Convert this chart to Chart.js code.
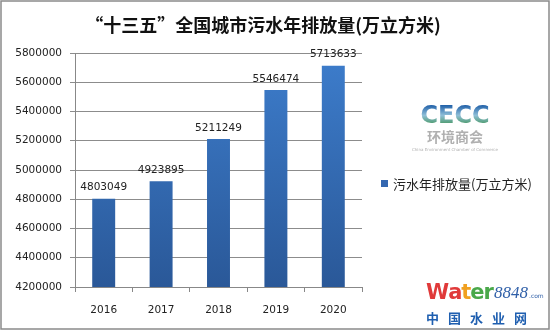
<!DOCTYPE html>
<html>
<head>
<meta charset="utf-8">
<style>
  html, body { margin: 0; padding: 0; background: #fff; }
  #wrap { width: 552px; height: 332px; position: relative; }
</style>
</head>
<body>
<div id="wrap"><canvas id="chart" width="552" height="332"></canvas></div>

<script src="https://cdn.jsdelivr.net/npm/chart.js@4.4.1/dist/chart.umd.min.js"></script>
<script>
  const years = ["2016", "2017", "2018", "2019", "2020"]
  const sewage = [4803049, 4923895, 5211249, 5546474, 5713633]
  const seriesName = "污水年排放量(万立方米)"
  const chartTitle = "“十三五”全国城市污水年排放量(万立方米)"
  const yMin = 4200000
  const yMax = 5800000
  const yStep = 200000

  const numFont = "DejaVu Sans, sans-serif"
  const cjkFont = "'Noto Sans CJK SC', sans-serif"

  function barGradient(context) {
    const chart = context.chart
    const area = chart.chartArea
    if (!area) return "#3673c0"
    const g = chart.ctx.createLinearGradient(0, area.top, 0, area.bottom)
    g.addColorStop(0, "#3d7dcc")
    g.addColorStop(1, "#2a5898")
    return g
  }

  // title, frame, value labels, legend and the two logos
  const decorations = {
    id: "decorations",
    afterDatasetsDraw(chart) {
      const ctx = chart.ctx
      const meta = chart.getDatasetMeta(0)
      ctx.save()
      ctx.fillStyle = "#222"
      ctx.font = "10.5px " + numFont
      ctx.textAlign = "center"
      ctx.textBaseline = "bottom"
      meta.data.forEach((bar, i) => {
        ctx.fillText(String(sewage[i]), bar.x, bar.y - 6)
      })
      ctx.restore()
    },
    afterDraw(chart) {
      const ctx = chart.ctx
      ctx.save()

      // frame
      ctx.strokeStyle = "#8a8a8a"
      ctx.lineWidth = 1.5
      ctx.strokeRect(1, 1, 548, 328)

      // title
      ctx.fillStyle = "#111"
      ctx.font = "bold 18px " + cjkFont
      ctx.textAlign = "center"
      ctx.textBaseline = "middle"
      ctx.fillText(chartTitle, 263, 25)

      // legend
      ctx.fillStyle = "#3467b0"
      ctx.fillRect(381, 180, 7, 7)
      ctx.fillStyle = "#222"
      ctx.font = "13px " + cjkFont
      ctx.textAlign = "left"
      ctx.fillText(seriesName, 393, 184)

      // CECC logo
      const lg = ctx.createLinearGradient(0, 105, 0, 128)
      lg.addColorStop(0, "#1f5fa8")
      lg.addColorStop(0.45, "#8fbfd8")
      lg.addColorStop(1, "#2f8a3a")
      ctx.fillStyle = lg
      ctx.font = "bold 24px " + numFont
      ctx.textAlign = "center"
      ctx.fillText("CECC", 455, 117)
      ctx.fillStyle = "#b0b0b0"
      ctx.font = "bold 14px " + cjkFont
      ctx.fillText("环境商会", 455, 137)
      ctx.font = "4px " + numFont
      ctx.fillText("China Environment Chamber of Commerce", 455, 150)

      // water8848 logo
      ctx.textAlign = "left"
      ctx.textBaseline = "alphabetic"
      ctx.font = "bold 21px " + numFont
      const letters = [["W", "#e03a3a"], ["a", "#e03a3a"], ["t", "#f0a020"], ["e", "#4aa84a"], ["r", "#4aa84a"]]
      let x = 426
      letters.forEach(([ch, col]) => {
        ctx.fillStyle = col
        ctx.fillText(ch, x, 299)
        x += ctx.measureText(ch).width - 1
      })
      ctx.fillStyle = "#2f5fa8"
      ctx.font = "italic 17px 'Liberation Serif', serif"
      ctx.fillText("8848", x + 1, 298)
      x += ctx.measureText("8848").width + 2
      ctx.font = "6px " + numFont
      ctx.fillText(".com", x, 298)
      ctx.fillStyle = "#1f5fb0"
      ctx.font = "bold 13px " + cjkFont
      ctx.textBaseline = "middle"
      ;["中", "国", "水", "业", "网"].forEach((ch, i) => {
        ctx.fillText(ch, 426 + i * 22, 318)
      })

      ctx.restore()
    }
  }

  const ctx = document.getElementById("chart").getContext("2d")
  new Chart(ctx, {
    type: "bar",
    data: {
      labels: years,
      datasets: [{
        label: seriesName,
        data: sewage,
        backgroundColor: barGradient,
        borderWidth: 0,
        barPercentage: 0.4,
        categoryPercentage: 1
      }]
    },
    options: {
      responsive: false,
      animation: false,
      layout: { padding: { left: 0, top: 53, right: 190, bottom: 0 } },
      plugins: {
        legend: { display: false },
        title: { display: false },
        tooltip: { enabled: false }
      },
      scales: {
        x: {
          afterFit: s => { s.height = 45 },
          grid: {
            offset: true,
            drawOnChartArea: false,
            color: "#888",
            tickLength: 5
          },
          border: { color: "#888" },
          ticks: {
            color: "#222",
            font: { family: numFont, size: 10.5 },
            padding: 12
          }
        },
        y: {
          min: yMin,
          max: yMax,
          afterFit: s => { s.width = 75 },
          grid: { color: "#8c8c8c", tickLength: 5 },
          border: { color: "#888" },
          ticks: {
            stepSize: yStep,
            color: "#222",
            font: { family: numFont, size: 10.5 },
            padding: 8,
            callback: v => String(v)
          }
        }
      }
    },
    plugins: [decorations]
  })
</script>
</body>
</html>
